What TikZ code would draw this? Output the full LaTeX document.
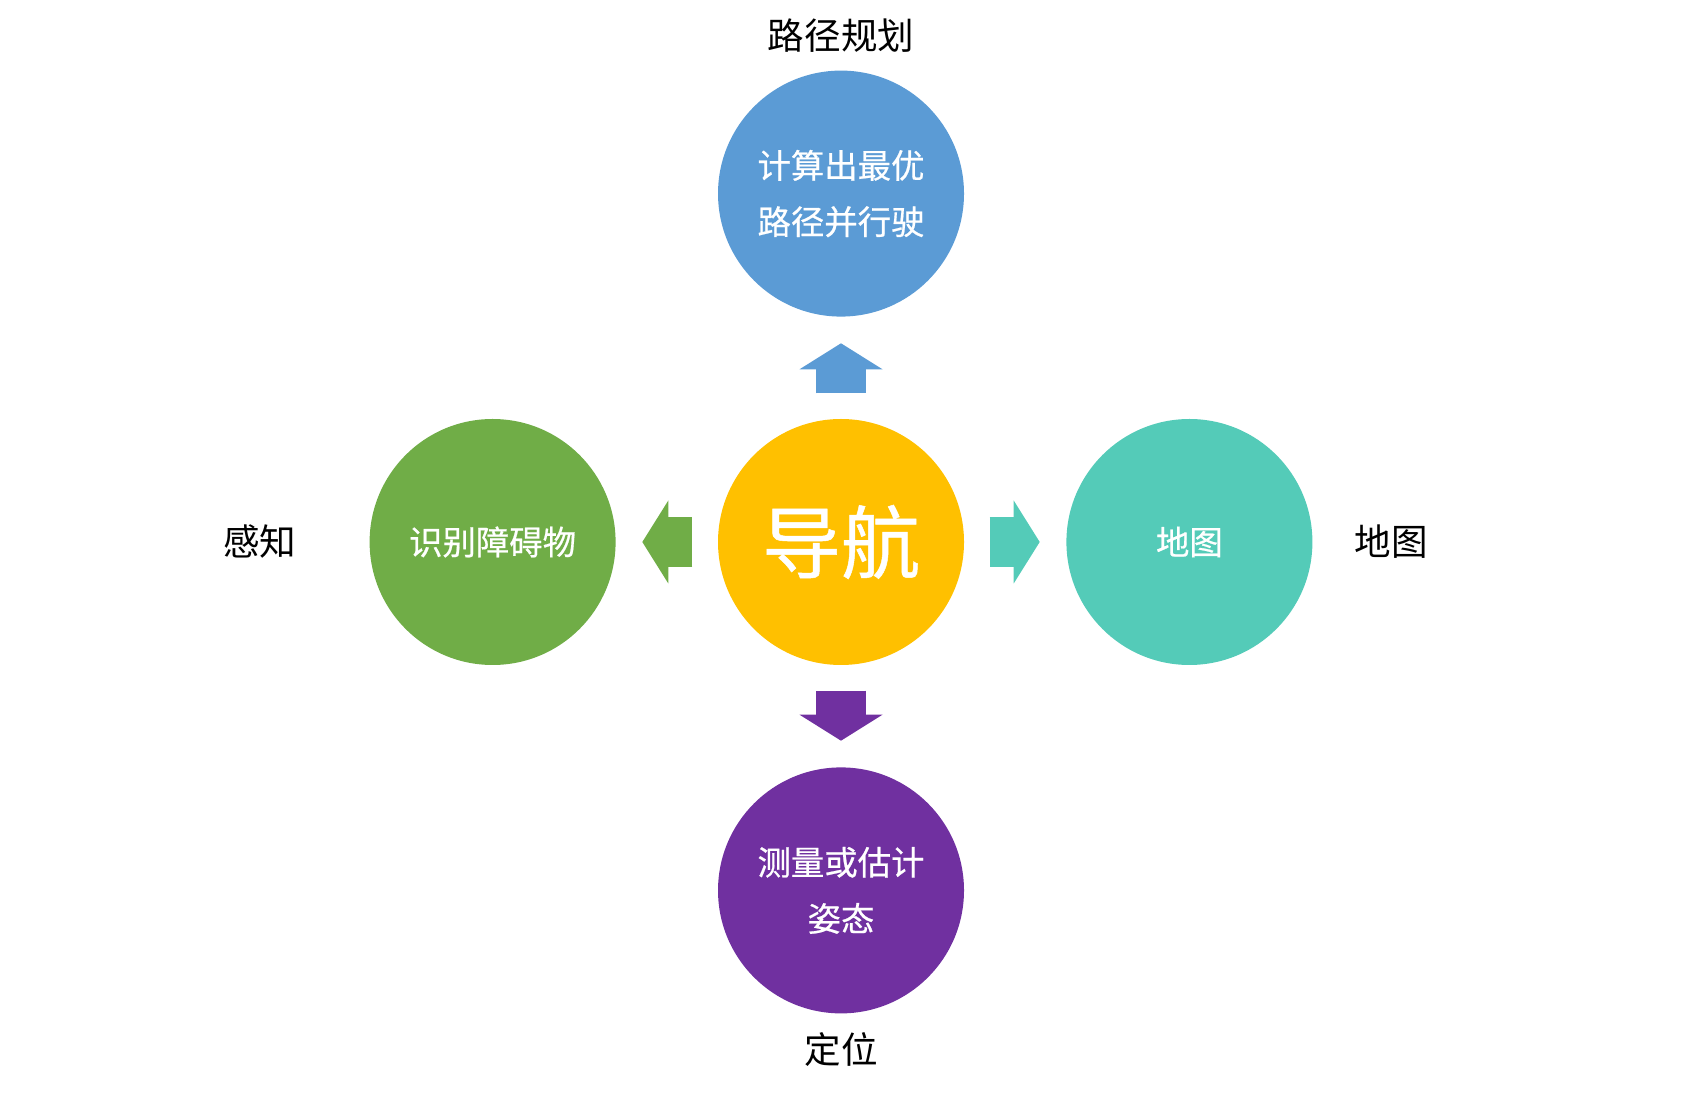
\documentclass[tikz,border=0pt]{standalone}
\usepackage{fontspec}
\setmainfont{Noto Sans CJK SC}
\newfontfamily\circlefont[FakeBold=0.6]{Noto Sans CJK SC}
\usetikzlibrary{arrows.meta, positioning}
\definecolor{navyellow}{HTML}{FFC000}
\definecolor{planblue}{HTML}{5B9BD5}
\definecolor{percgreen}{HTML}{70AD47}
\definecolor{mapteal}{HTML}{54CBB8}
\definecolor{locpurple}{HTML}{7030A0}

\begin{document}
\begin{tikzpicture}[x=0.1mm, y=-0.1mm,
        topic/.style = {circle, minimum size=24.6mm, inner sep=0pt, text=white, font=\circlefont\fontsize{9.5}{16}\selectfont, align=center},
        tag/.style = {inner sep=0pt, font=\fontsize{10.4}{12}\selectfont},
        blockarrow/.style = {line width=5mm, -{Triangle[width=8.3mm, length=2.6mm, line width=0pt]}, shorten <=2.5mm, shorten >=2.6mm},
      ]
      \useasboundingbox (0,0) rectangle (1682,1094);
      \node[topic, fill=navyellow, font=\circlefont\fontsize{22.5}{26}\selectfont] (nav) at (841,542) {导航};
      \node[topic, fill=planblue, above=10.1mm of nav] (plan) {计算出最优\\路径并行驶};
      \node[topic, fill=percgreen, left=10.1mm of nav] (perc) {识别障碍物};
      \node[topic, fill=mapteal, right=10.1mm of nav] (map) {地图};
      \node[topic, fill=locpurple, below=10.1mm of nav] (loc) {测量或估计\\姿态};
      \node[tag, above=1.7mm of plan] (plantag) {路径规划};
      \node[tag, left=7.2mm of perc] (perctag) {感知};
      \node[tag, right=4.1mm of map] (maptag) {地图};
      \node[tag, below=1.8mm of loc] (loctag) {定位};
      \draw[blockarrow, planblue] (nav) -- (plan);
      \draw[blockarrow, percgreen] (nav) -- (perc);
      \draw[blockarrow, mapteal] (nav) -- (map);
      \draw[blockarrow, locpurple] (nav) -- (loc);
    \end{tikzpicture}
\end{document}
